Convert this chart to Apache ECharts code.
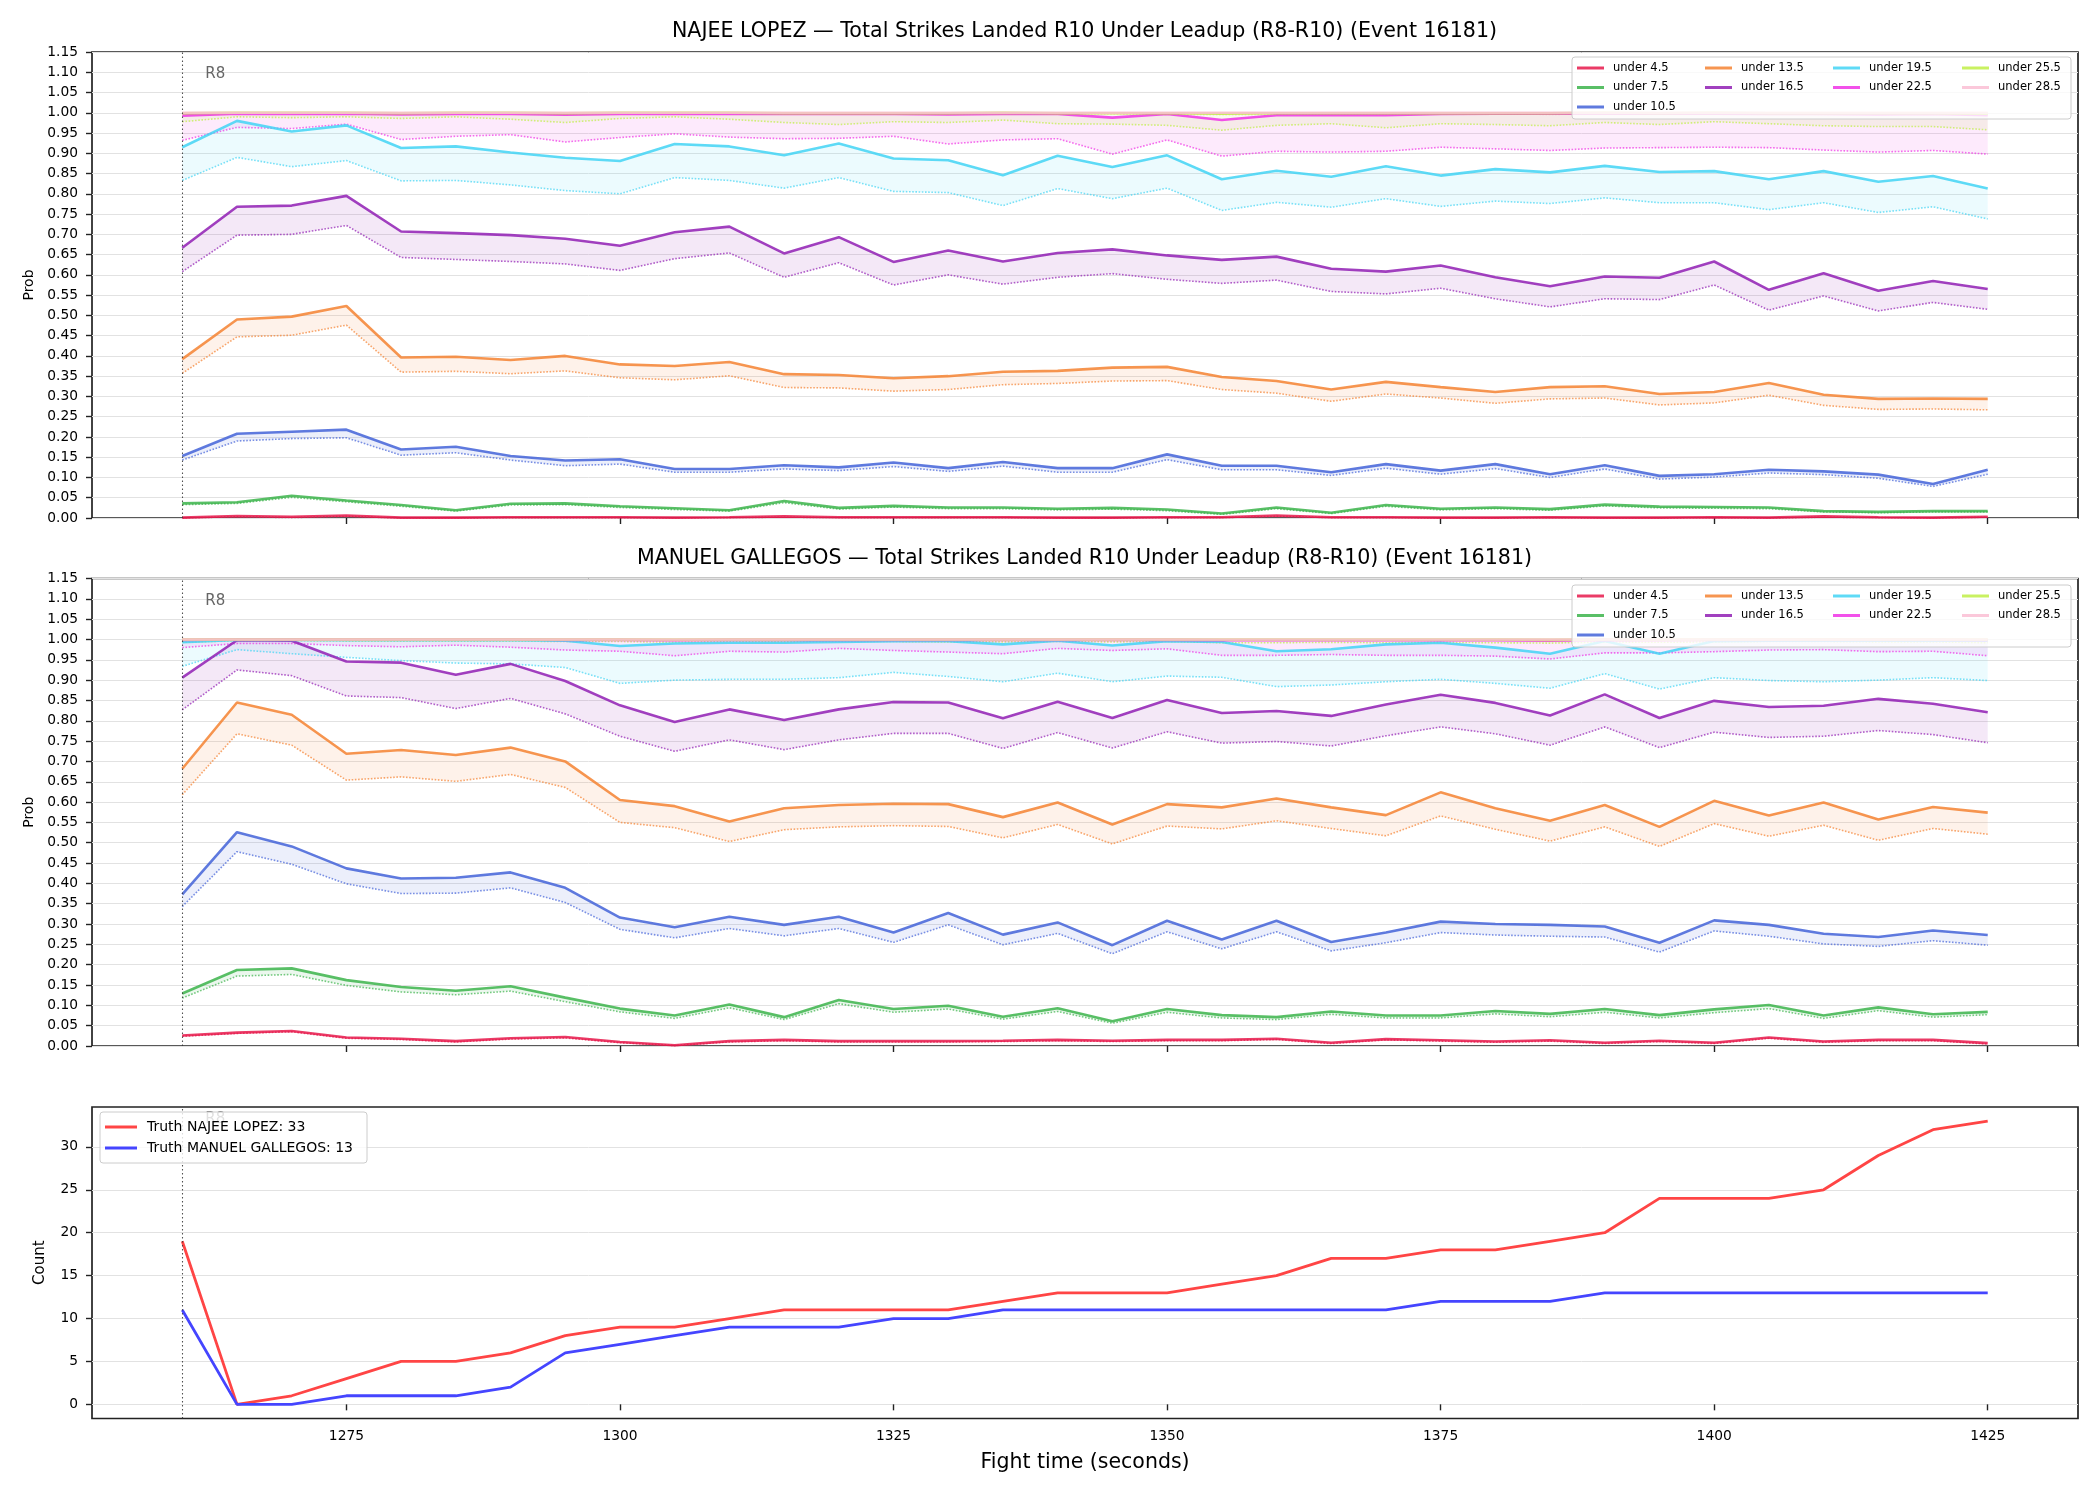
<!DOCTYPE html>
<html>
<head>
<meta charset="utf-8">
<title>Total Strikes Landed R10 Under Leadup (Event 16181)</title>
<script src="https://cdn.jsdelivr.net/npm/echarts@6/dist/echarts.min.js"></script>
<style>
  html, body { margin: 0; padding: 0; background: #fff; }
  #chart { width: 2100px; height: 1500px; }
</style>
</head>
<body>
<div id="chart"></div>
<script>
// fight time (seconds) of every sample
var times = [1260, 1265, 1270, 1275, 1280, 1285, 1290, 1295, 1300, 1305, 1310, 1315, 1320, 1325, 1330, 1335, 1340,
             1345, 1350, 1355, 1360, 1365, 1370, 1375, 1380, 1385, 1390, 1395, 1400, 1405, 1410, 1415, 1420, 1425];

var xTicks = [1275, 1300, 1325, 1350, 1375, 1400, 1425];
var countTicks = [0, 5, 10, 15, 20, 25, 30];

var lineNames = ['under 4.5', 'under 7.5', 'under 10.5', 'under 13.5', 'under 16.5',
                 'under 19.5', 'under 22.5', 'under 25.5', 'under 28.5'];
var lineColors = ['#e6194b', '#3cb44b', '#4363d8', '#f58231', '#911eb4',
                  '#42d4f4', '#f032e6', '#bfef45', '#fabed4'];

var roundStart = 1260;
var roundLabel = 'R8';

// ---- NAJEE LOPEZ : solid (Hi) and dotted (Lo) curves
var lopezHi45 = [0.001,0.005,0.003,0.006,0.001,0.001,0.002,0.002,0.002,0.001,0.002,0.004,0.002,0.002,0.002,0.002,0.001,0.001,0.002,0.002,0.006,0.002,0.002,0.001,0.001,0.002,0.001,0.001,0.002,0.001,0.004,0.002,0.001,0.003];
var lopezLo45 = [0.000,0.003,0.001,0.004,0.000,0.000,0.001,0.001,0.001,0.000,0.001,0.002,0.001,0.001,0.001,0.001,0.000,0.000,0.001,0.001,0.004,0.001,0.001,0.000,0.000,0.001,0.000,0.000,0.001,0.000,0.002,0.001,0.000,0.002];
var lopezHi75 = [0.036,0.039,0.055,0.043,0.032,0.019,0.035,0.036,0.029,0.024,0.019,0.042,0.025,0.030,0.026,0.026,0.023,0.025,0.021,0.011,0.026,0.013,0.032,0.023,0.026,0.022,0.033,0.028,0.027,0.026,0.017,0.015,0.017,0.017];
var lopezLo75 = [0.033,0.036,0.051,0.040,0.029,0.017,0.032,0.033,0.026,0.021,0.017,0.038,0.022,0.027,0.023,0.023,0.020,0.022,0.018,0.009,0.023,0.011,0.029,0.020,0.023,0.019,0.030,0.025,0.024,0.023,0.015,0.013,0.015,0.015];
var lopezHi105 = [0.153,0.208,0.213,0.218,0.169,0.176,0.153,0.142,0.145,0.121,0.121,0.130,0.125,0.137,0.123,0.138,0.123,0.123,0.157,0.129,0.129,0.113,0.133,0.117,0.133,0.108,0.130,0.104,0.108,0.119,0.115,0.107,0.084,0.119];
var lopezLo105 = [0.143,0.190,0.196,0.198,0.155,0.161,0.143,0.129,0.133,0.113,0.113,0.121,0.117,0.127,0.115,0.128,0.113,0.113,0.144,0.119,0.119,0.105,0.123,0.108,0.122,0.100,0.121,0.096,0.101,0.111,0.107,0.098,0.078,0.108];
var lopezHi135 = [0.392,0.490,0.497,0.523,0.396,0.398,0.390,0.400,0.379,0.375,0.385,0.355,0.353,0.345,0.350,0.361,0.363,0.371,0.373,0.348,0.338,0.317,0.336,0.323,0.311,0.323,0.325,0.306,0.311,0.333,0.304,0.294,0.295,0.294];
var lopezLo135 = [0.357,0.447,0.451,0.476,0.360,0.362,0.356,0.363,0.346,0.341,0.351,0.322,0.321,0.313,0.317,0.329,0.332,0.338,0.339,0.317,0.308,0.288,0.306,0.296,0.283,0.294,0.296,0.279,0.284,0.303,0.278,0.268,0.269,0.267];
var lopezHi165 = [0.667,0.768,0.771,0.795,0.707,0.703,0.698,0.689,0.672,0.705,0.719,0.653,0.693,0.632,0.660,0.633,0.654,0.663,0.648,0.637,0.645,0.615,0.608,0.623,0.594,0.572,0.596,0.593,0.633,0.563,0.604,0.561,0.585,0.565];
var lopezLo165 = [0.608,0.698,0.700,0.722,0.643,0.638,0.633,0.627,0.611,0.640,0.654,0.594,0.630,0.575,0.600,0.577,0.594,0.603,0.589,0.579,0.587,0.559,0.553,0.567,0.541,0.521,0.541,0.539,0.575,0.513,0.548,0.511,0.532,0.515];
var lopezHi195 = [0.915,0.980,0.954,0.969,0.913,0.917,0.902,0.889,0.881,0.923,0.917,0.895,0.924,0.887,0.883,0.846,0.894,0.866,0.895,0.836,0.857,0.842,0.868,0.845,0.861,0.853,0.869,0.854,0.856,0.836,0.856,0.830,0.844,0.813];
var lopezLo195 = [0.833,0.890,0.867,0.882,0.832,0.833,0.822,0.808,0.800,0.840,0.833,0.814,0.840,0.806,0.803,0.771,0.813,0.788,0.814,0.759,0.779,0.767,0.788,0.769,0.782,0.776,0.790,0.778,0.778,0.761,0.778,0.754,0.768,0.738];
var lopezHi225 = [0.993,0.998,0.997,0.998,0.996,0.997,0.997,0.995,0.997,0.998,0.997,0.997,0.997,0.997,0.996,0.997,0.997,0.988,0.997,0.982,0.994,0.994,0.994,0.997,0.998,0.998,0.998,0.998,0.998,0.997,0.997,0.996,0.997,0.994];
var lopezLo225 = [0.932,0.964,0.961,0.972,0.934,0.942,0.946,0.928,0.939,0.948,0.940,0.936,0.937,0.942,0.923,0.933,0.936,0.898,0.933,0.893,0.905,0.903,0.905,0.915,0.911,0.907,0.913,0.914,0.915,0.914,0.908,0.903,0.907,0.898];
var lopezHi255 = [0.999,1.000,1.000,1.000,0.999,1.000,1.000,0.999,1.000,1.000,1.000,0.999,0.999,0.999,0.999,1.000,0.999,0.999,0.999,0.998,0.999,0.999,0.999,0.999,0.999,0.999,1.000,0.999,1.000,0.999,0.999,0.999,0.999,0.998];
var lopezLo255 = [0.978,0.990,0.988,0.990,0.986,0.990,0.984,0.976,0.986,0.990,0.984,0.976,0.971,0.978,0.976,0.982,0.973,0.972,0.969,0.957,0.969,0.973,0.963,0.973,0.971,0.968,0.976,0.971,0.978,0.973,0.968,0.966,0.966,0.958];
var lopezHi285 = [1.000,1.000,1.000,1.000,1.000,1.000,1.000,1.000,1.000,1.000,1.000,1.000,1.000,1.000,1.000,1.000,1.000,1.000,1.000,1.000,1.000,1.000,1.000,1.000,1.000,1.000,1.000,1.000,1.000,1.000,1.000,1.000,1.000,1.000];
var lopezLo285 = [0.997,0.999,0.999,0.999,0.998,0.999,0.998,0.997,0.998,0.999,0.998,0.997,0.997,0.997,0.997,0.998,0.997,0.997,0.996,0.995,0.996,0.997,0.996,0.997,0.997,0.996,0.997,0.997,0.997,0.997,0.996,0.996,0.996,0.995];

// ---- MANUEL GALLEGOS : solid (Hi) and dotted (Lo) curves
var gallegosHi45 = [0.026,0.033,0.037,0.021,0.018,0.012,0.019,0.022,0.010,0.002,0.012,0.015,0.012,0.012,0.012,0.013,0.015,0.013,0.015,0.015,0.018,0.008,0.017,0.014,0.011,0.014,0.008,0.013,0.008,0.021,0.011,0.015,0.015,0.007];
var gallegosLo45 = [0.024,0.031,0.035,0.019,0.016,0.010,0.017,0.020,0.008,0.001,0.010,0.013,0.010,0.010,0.010,0.011,0.013,0.011,0.013,0.013,0.016,0.006,0.015,0.012,0.009,0.012,0.006,0.011,0.006,0.019,0.009,0.013,0.013,0.005];
var gallegosHi75 = [0.129,0.187,0.191,0.162,0.145,0.136,0.147,0.119,0.092,0.075,0.102,0.071,0.113,0.091,0.099,0.072,0.093,0.061,0.091,0.076,0.071,0.085,0.075,0.075,0.086,0.079,0.091,0.076,0.090,0.101,0.075,0.095,0.078,0.084];
var gallegosLo75 = [0.118,0.172,0.176,0.149,0.133,0.126,0.135,0.109,0.084,0.068,0.094,0.065,0.104,0.083,0.091,0.066,0.085,0.056,0.083,0.069,0.065,0.078,0.069,0.069,0.079,0.072,0.083,0.069,0.082,0.092,0.068,0.087,0.071,0.077];
var gallegosHi105 = [0.373,0.526,0.491,0.437,0.412,0.414,0.427,0.389,0.316,0.292,0.318,0.298,0.318,0.279,0.327,0.274,0.304,0.248,0.308,0.262,0.308,0.256,0.279,0.306,0.300,0.298,0.294,0.254,0.309,0.298,0.276,0.268,0.284,0.273];
var gallegosLo105 = [0.343,0.478,0.447,0.399,0.375,0.376,0.389,0.353,0.287,0.266,0.289,0.271,0.289,0.255,0.298,0.249,0.277,0.227,0.281,0.239,0.281,0.234,0.254,0.279,0.273,0.270,0.268,0.231,0.283,0.270,0.251,0.245,0.259,0.248];
var gallegosHi135 = [0.682,0.845,0.815,0.719,0.728,0.716,0.734,0.700,0.605,0.590,0.552,0.585,0.593,0.596,0.595,0.563,0.599,0.545,0.595,0.587,0.609,0.587,0.568,0.624,0.585,0.554,0.593,0.539,0.603,0.567,0.599,0.557,0.588,0.574];
var gallegosLo135 = [0.618,0.768,0.740,0.654,0.662,0.651,0.668,0.636,0.550,0.537,0.503,0.532,0.539,0.542,0.540,0.512,0.545,0.497,0.541,0.534,0.554,0.535,0.517,0.566,0.533,0.504,0.539,0.491,0.547,0.516,0.543,0.506,0.535,0.521];
var gallegosHi165 = [0.906,0.998,0.997,0.946,0.943,0.913,0.940,0.898,0.838,0.797,0.828,0.802,0.828,0.846,0.845,0.806,0.847,0.807,0.851,0.819,0.824,0.812,0.840,0.864,0.844,0.813,0.865,0.807,0.849,0.834,0.837,0.854,0.842,0.821];
var gallegosLo165 = [0.827,0.925,0.911,0.861,0.857,0.830,0.855,0.817,0.762,0.725,0.753,0.729,0.753,0.769,0.769,0.732,0.771,0.733,0.773,0.745,0.749,0.738,0.763,0.785,0.768,0.740,0.785,0.734,0.772,0.759,0.762,0.776,0.766,0.746];
var gallegosHi195 = [0.993,0.999,0.999,0.998,0.998,0.998,0.998,0.997,0.984,0.990,0.992,0.992,0.994,0.996,0.996,0.988,0.997,0.985,0.996,0.994,0.971,0.976,0.988,0.992,0.980,0.965,0.996,0.965,0.996,0.997,0.997,0.997,0.997,0.997];
var gallegosLo195 = [0.934,0.975,0.965,0.956,0.948,0.942,0.940,0.931,0.892,0.900,0.902,0.902,0.906,0.919,0.909,0.896,0.917,0.896,0.910,0.907,0.884,0.888,0.896,0.902,0.892,0.880,0.916,0.878,0.906,0.899,0.896,0.900,0.906,0.899];
var gallegosHi225 = [0.999,1.000,1.000,1.000,1.000,1.000,1.000,0.999,0.999,0.998,0.999,0.999,0.999,0.999,0.999,0.999,0.999,0.999,0.999,0.998,0.998,0.998,0.998,0.998,0.998,0.997,0.999,0.998,0.999,0.999,0.999,0.999,0.999,0.998];
var gallegosLo225 = [0.980,0.990,0.990,0.985,0.982,0.986,0.981,0.974,0.971,0.960,0.971,0.969,0.978,0.973,0.969,0.965,0.978,0.973,0.977,0.961,0.961,0.963,0.961,0.961,0.959,0.952,0.967,0.967,0.970,0.974,0.975,0.970,0.971,0.960];
var gallegosHi255 = [1.000,1.000,1.000,1.000,1.000,1.000,1.000,1.000,1.000,1.000,1.000,1.000,1.000,1.000,1.000,1.000,1.000,1.000,1.000,1.000,1.000,1.000,1.000,1.000,1.000,0.999,1.000,1.000,1.000,1.000,1.000,1.000,1.000,1.000];
var gallegosLo255 = [0.993,0.997,0.997,0.996,0.996,0.996,0.996,0.995,0.995,0.993,0.995,0.994,0.995,0.995,0.994,0.994,0.995,0.994,0.995,0.992,0.992,0.993,0.992,0.993,0.992,0.991,0.994,0.993,0.994,0.995,0.995,0.994,0.994,0.992];
var gallegosHi285 = [1.000,1.000,1.000,1.000,1.000,1.000,1.000,1.000,1.000,1.000,1.000,1.000,1.000,1.000,1.000,1.000,1.000,1.000,1.000,1.000,1.000,1.000,1.000,1.000,1.000,1.000,1.000,1.000,1.000,1.000,1.000,1.000,1.000,1.000];
var gallegosLo285 = [0.999,1.000,1.000,0.999,0.999,0.999,0.999,0.999,0.999,0.998,0.999,0.999,0.999,0.999,0.999,0.999,0.999,0.999,0.999,0.998,0.998,0.998,0.998,0.998,0.998,0.998,0.999,0.998,0.999,0.999,0.999,0.999,0.999,0.998];

// ---- truth counts
var lopezTruth = [19, 0, 1, 3, 5, 5, 6, 8, 9, 9, 10, 11, 11, 11, 11, 12, 13, 13, 13, 14, 15, 17, 17, 18, 18, 19, 20, 24, 24, 24, 25, 29, 32, 33];
var gallegosTruth = [11, 0, 0, 1, 1, 1, 2, 6, 7, 8, 9, 9, 9, 10, 10, 11, 11, 11, 11, 11, 11, 11, 11, 12, 12, 12, 13, 13, 13, 13, 13, 13, 13, 13];

var lopezHi = [lopezHi45, lopezHi75, lopezHi105, lopezHi135, lopezHi165, lopezHi195, lopezHi225, lopezHi255, lopezHi285];
var lopezLo = [lopezLo45, lopezLo75, lopezLo105, lopezLo135, lopezLo165, lopezLo195, lopezLo225, lopezLo255, lopezLo285];
var gallegosHi = [gallegosHi45, gallegosHi75, gallegosHi105, gallegosHi135, gallegosHi165, gallegosHi195, gallegosHi225, gallegosHi255, gallegosHi285];
var gallegosLo = [gallegosLo45, gallegosLo75, gallegosLo105, gallegosLo135, gallegosLo165, gallegosLo195, gallegosLo225, gallegosLo255, gallegosLo285];

/* layout */
var gridLeft = 92, gridRight = 22;
var panelTop = [52, 578.5, 1107];
var panelHeight = [466, 467.5, 311.5];
var legendColX = [1577, 1705, 1833, 1962];
var legendCols = [[0, 1, 2], [3, 4], [5, 6], [7, 8]];

function pairs(ys) {
	var out = [];
	for (var i = 0; i < times.length; i++) {
		out.push([times[i], ys[i]]);
	}
	return out;
}

// R8 marker: dotted vertical line plus the label
function roundMarks(labelY) {
	return {
		markLine: {
			silent: true,
			symbol: ['none', 'none'],
			label: { show: false },
			lineStyle: { type: [1.5, 2.5], color: '#333', width: 1.1, opacity: 0.85 },
			data: [{ xAxis: roundStart }]
		},
		markPoint: {
			silent: true,
			symbol: 'circle',
			symbolSize: 0,
			label: { show: true, position: 'right', distance: 23, formatter: roundLabel, color: '#666', fontSize: 15 },
			data: [{ coord: [roundStart, labelY] }]
		}
	};
}

// shaded band between dotted and solid curve, one polygon drawn through the axes
function bandSeries(gi, color, hi, lo) {
	return {
		type: 'custom', xAxisIndex: gi, yAxisIndex: gi, silent: true, z: 1,
		data: times.map(function (t, i) { return [t, lo[i], hi[i]]; }),
		encode: { x: 0, y: [1, 2] },
		renderItem: function (params, api) {
			if (params.dataIndex !== 0) return null;
			var pts = [];
			for (var i = 0; i < times.length; i++) pts.push(api.coord([times[i], hi[i]]));
			for (var j = times.length - 1; j >= 0; j--) pts.push(api.coord([times[j], lo[j]]));
			return {
				type: 'polygon',
				shape: { points: pts },
				style: { fill: echarts.color.modifyAlpha(color, 0.1), stroke: null }
			};
		}
	};
}

function panelSeries(gi, hiList, loList) {
	var series = [];
	for (var k = 0; k < lineNames.length; k++) {
		var color = lineColors[k];
		series.push(bandSeries(gi, color, hiList[k], loList[k]));
		series.push({
			type: 'line', xAxisIndex: gi, yAxisIndex: gi,
			data: pairs(loList[k]), symbol: 'none', silent: true, z: 2,
			lineStyle: { color: color, width: 1.6, type: 'dotted', opacity: 0.7 }
		});
		var solid = {
			type: 'line', name: lineNames[k], xAxisIndex: gi, yAxisIndex: gi,
			data: pairs(hiList[k]), symbol: 'none', z: 3, color: color,
			lineStyle: { color: color, width: 2.6, opacity: 0.85 },
			itemStyle: { color: color, opacity: 0.85 }
		};
		if (k === 0) {
			var m = roundMarks(1.095);
			solid.markLine = m.markLine;
			solid.markPoint = m.markPoint;
		}
		series.push(solid);
	}
	return series;
}

function panelLegends(top) {
	return legendCols.map(function (col, c) {
		return {
			orient: 'vertical', left: legendColX[c], top: top, padding: 0,
			itemWidth: 27, itemHeight: 3, itemGap: 5.5, icon: 'rect',
			selectedMode: false, z: 11,
			textStyle: { fontSize: 11.5, lineHeight: 14, color: '#000', padding: [0, 0, 0, 4] },
			data: col.map(function (i) { return lineNames[i]; })
		};
	});
}

function xAxisFor(gi, showLabels) {
	return {
		type: 'value', gridIndex: gi, min: 1251.75, max: 1433.25,
		minInterval: 25, maxInterval: 25,
		axisLine: { show: false },
		axisTick: { show: true, length: 6, customValues: xTicks, lineStyle: { color: '#222', width: 1.4 } },
		axisLabel: {
			show: showLabels, customValues: xTicks, fontSize: 13.8, color: '#000', margin: 11,
			formatter: function (v) { return String(v); }
		},
		splitLine: { show: false },
		name: showLabels ? 'Fight time (seconds)' : '',
		nameLocation: 'middle', nameGap: 34,
		nameTextStyle: { fontSize: 20.5, color: '#000' }
	};
}

function probAxis(gi) {
	return {
		type: 'value', gridIndex: gi, min: 0, max: 1.15, interval: 0.05,
		name: 'Prob', nameLocation: 'middle', nameGap: 55,
		nameTextStyle: { fontSize: 14, color: '#000' },
		axisLine: { show: false },
		axisTick: { show: true, length: 6, lineStyle: { color: '#222', width: 1.4 } },
		axisLabel: { fontSize: 13.8, color: '#000', margin: 14, formatter: function (v) { return v.toFixed(2); } },
		splitLine: { show: true, lineStyle: { color: '#e2e2e2', width: 1 } }
	};
}

var chart = echarts.init(document.getElementById('chart'));

var series = panelSeries(0, lopezHi, lopezLo).concat(panelSeries(1, gallegosHi, gallegosLo));

var truthRed = {
	type: 'line', name: 'Truth NAJEE LOPEZ: ' + lopezTruth[lopezTruth.length - 1],
	xAxisIndex: 2, yAxisIndex: 2, data: pairs(lopezTruth), symbol: 'none', z: 3,
	color: '#ff4545', lineStyle: { color: '#ff4545', width: 2.8 }, itemStyle: { color: '#ff4545' }
};
var bottomMarks = roundMarks(33.2);
truthRed.markLine = bottomMarks.markLine;
truthRed.markPoint = bottomMarks.markPoint;
series.push(truthRed);
var truthBlue = {
	type: 'line', name: 'Truth MANUEL GALLEGOS: ' + gallegosTruth[gallegosTruth.length - 1],
	xAxisIndex: 2, yAxisIndex: 2, data: pairs(gallegosTruth), symbol: 'none', z: 3,
	color: '#4545ff', lineStyle: { color: '#4545ff', width: 2.8 }, itemStyle: { color: '#4545ff' }
};
series.push(truthBlue);

var titleStyle = { fontSize: 20.6, fontWeight: 'normal', color: '#000' };

var option = {
	animation: false,
	backgroundColor: '#fff',
	textStyle: { fontFamily: 'DejaVu Sans' },
	title: [
		{ text: 'NAJEE LOPEZ — Total Strikes Landed R10 Under Leadup (R8-R10) (Event 16181)',
		  left: 1084.5, top: 21, textAlign: 'center', padding: 0, textStyle: titleStyle },
		{ text: 'MANUEL GALLEGOS — Total Strikes Landed R10 Under Leadup (R8-R10) (Event 16181)',
		  left: 1084.5, top: 548, textAlign: 'center', padding: 0, textStyle: titleStyle }
	],
	grid: panelTop.map(function (t, i) {
		return {
			left: gridLeft, right: gridRight, top: t, height: panelHeight[i],
			show: true, borderColor: '#222', borderWidth: 1.7, backgroundColor: 'transparent'
		};
	}),
	legend: panelLegends(61).concat(panelLegends(589)).concat([{
		orient: 'vertical', left: 105, top: 1119, padding: 0,
		itemWidth: 32, itemHeight: 3, itemGap: 5, icon: 'rect',
		selectedMode: false, z: 11,
		textStyle: { fontSize: 14, lineHeight: 16, color: '#000', padding: [0, 0, 0, 5] },
		data: [truthRed.name, truthBlue.name]
	}]),
	graphic: [
		{ type: 'rect', z: 10, shape: { x: 1572, y: 57, width: 499, height: 62, r: 3 },
		  style: { fill: 'rgba(255,255,255,0.8)', stroke: '#cccccc', lineWidth: 1 } },
		{ type: 'rect', z: 10, shape: { x: 1572, y: 585, width: 499, height: 62, r: 3 },
		  style: { fill: 'rgba(255,255,255,0.8)', stroke: '#cccccc', lineWidth: 1 } },
		{ type: 'rect', z: 10, shape: { x: 100, y: 1112, width: 267, height: 51, r: 3 },
		  style: { fill: 'rgba(255,255,255,0.8)', stroke: '#cccccc', lineWidth: 1 } }
	],
	xAxis: [xAxisFor(0, false), xAxisFor(1, false), xAxisFor(2, true)],
	yAxis: [probAxis(0), probAxis(1), {
		type: 'value', gridIndex: 2, min: -1.65, max: 34.65,
		minInterval: 5, maxInterval: 5,
		name: 'Count', nameLocation: 'middle', nameGap: 44,
		nameTextStyle: { fontSize: 15, color: '#000' },
		axisLine: { show: false },
		axisTick: { show: true, length: 6, customValues: countTicks, lineStyle: { color: '#222', width: 1.4 } },
		axisLabel: { fontSize: 13.8, color: '#000', margin: 14, customValues: countTicks },
		splitLine: { show: true, lineStyle: { color: '#e2e2e2', width: 1 } }
	}],
	series: series
};

chart.setOption(option);
</script>
</body>
</html>
